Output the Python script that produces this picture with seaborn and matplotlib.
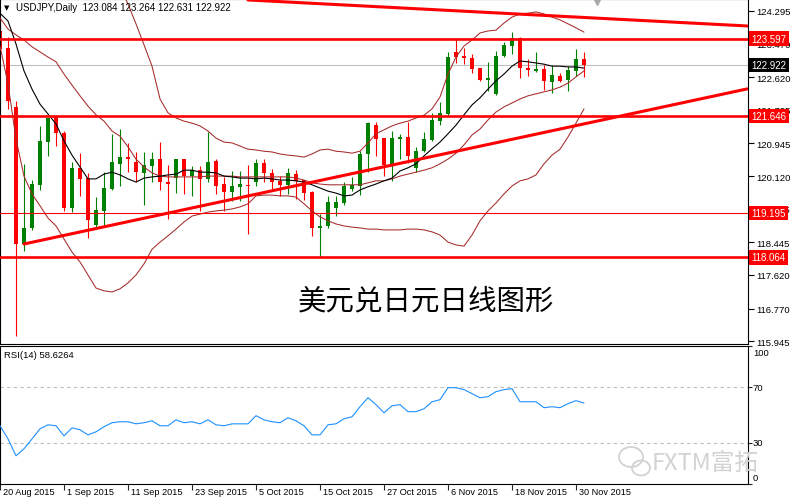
import matplotlib
matplotlib.use("Agg")
import matplotlib.pyplot as plt
import matplotlib.transforms as mtransforms
from matplotlib.patches import Ellipse
import pandas as pd
import seaborn as sns

# ---------------- data ----------------
symbol = "USDJPY,Daily"
opens = [123.79, 123.36, 121.87, 118.40, 118.81, 119.90, 120.98, 121.64, 121.21, 119.31,
         120.33, 120.07, 118.88, 119.24, 119.79, 120.43, 120.60, 120.48, 120.20, 120.38,
         120.55, 119.97, 120.07, 120.55, 120.12, 120.27, 120.05, 120.50, 119.92, 119.72,
         119.84, 119.90, 119.97, 120.45, 120.20, 120.00, 119.90, 120.17, 120.02, 119.73,
         118.82, 118.87, 119.31, 119.44, 119.80, 119.86, 120.68, 121.41, 121.08, 120.38,
         121.06, 121.12, 120.33, 120.76, 121.04, 121.52, 121.69, 123.25, 123.16, 123.11,
         122.85, 122.55, 122.19, 123.15, 123.42, 123.61, 122.86, 122.78, 122.83, 122.51,
         122.64, 122.55, 122.79, 123.084]
highs = [124.17, 123.64, 122.02, 120.43, 120.02, 121.39, 121.60, 121.66, 121.26, 120.48,
         120.70, 120.20, 119.59, 120.22, 121.19, 121.31, 120.96, 120.73, 120.73, 120.73,
         120.98, 120.40, 120.55, 120.56, 120.38, 120.38, 121.24, 120.55, 120.10, 120.25,
         120.25, 120.40, 120.55, 120.55, 120.30, 120.12, 120.33, 120.27, 120.03, 119.74,
         119.16, 119.62, 119.62, 119.97, 120.10, 120.76, 121.48, 121.48, 121.09, 121.27,
         121.18, 121.48, 120.85, 121.24, 121.71, 121.99, 123.26, 123.62, 123.35, 123.21,
         122.86, 123.00, 123.29, 123.50, 123.76, 123.63, 123.08, 123.27, 122.93, 122.93,
         122.72, 122.91, 123.33, 123.264]
lows = [123.28, 121.82, 116.08, 118.23, 118.76, 119.77, 120.63, 120.88, 119.24, 119.21,
        119.62, 118.56, 118.78, 118.83, 119.77, 119.87, 120.22, 119.97, 119.39, 119.97,
        119.77, 119.04, 119.70, 119.67, 119.62, 119.24, 119.97, 119.67, 119.24, 119.49,
        119.49, 118.66, 119.87, 119.97, 119.74, 119.62, 119.67, 119.54, 119.52, 118.61,
        118.07, 118.80, 119.11, 119.40, 119.75, 119.65, 120.22, 120.64, 120.13, 120.00,
        120.55, 120.45, 120.23, 120.72, 121.02, 121.40, 121.64, 122.99, 122.95, 122.73,
        122.53, 122.28, 122.18, 123.14, 123.21, 122.60, 122.65, 122.76, 122.30, 122.22,
        122.49, 122.28, 122.66, 122.631]
closes = [123.34, 122.02, 118.40, 118.81, 119.92, 121.01, 121.59, 121.21, 119.31, 120.33,
          120.05, 119.01, 119.26, 119.82, 120.47, 120.60, 120.56, 120.22, 120.40, 120.55,
          119.97, 119.92, 120.55, 120.12, 120.27, 120.05, 120.48, 119.87, 119.72, 119.87,
          119.92, 119.87, 120.45, 120.20, 119.97, 119.90, 120.20, 120.00, 119.69, 118.81,
          118.87, 119.46, 119.46, 119.86, 119.90, 120.68, 121.46, 121.06, 120.40, 121.08,
          121.10, 120.64, 120.76, 121.06, 121.54, 121.71, 123.14, 123.14, 123.11, 122.83,
          122.55, 122.59, 123.16, 123.44, 123.61, 122.85, 122.80, 122.83, 122.52, 122.68,
          122.53, 122.81, 123.08, 122.922]

bb_upper_start = 14
bb_upper = [125.35, 124.90, 124.47, 123.97, 123.44, 122.90, 122.07, 121.72, 121.59, 121.51,
            121.46, 121.39, 121.26, 121.08, 120.98, 120.96, 120.88, 120.80, 120.78, 120.75,
            120.73, 120.68, 120.65, 120.63, 120.60, 120.68, 120.78, 120.80, 120.75, 120.73,
            120.70, 120.75, 120.96, 121.19, 121.29, 121.39, 121.46, 121.51, 121.59, 121.66,
            121.82, 122.12, 122.70, 123.13, 123.41, 123.56, 123.74, 123.79, 123.81, 123.99,
            124.14, 124.22, 124.24, 124.27, 124.22, 124.14, 124.07, 123.97, 123.87, 123.76]
bb_middle = [124.12, 123.84, 123.69, 123.56, 123.39, 123.26, 123.13, 123.01, 122.70, 122.42,
             122.15, 121.89, 121.67, 121.51, 121.26, 121.13, 120.86, 120.55, 120.35, 120.20,
             120.12, 120.10, 120.10, 120.10, 120.10, 120.10, 120.12, 120.12, 120.12, 120.12,
             120.10, 120.10, 120.10, 120.10, 120.10, 120.10, 120.10, 120.07, 120.02, 119.95,
             119.92, 119.90, 119.90, 119.90, 119.90, 119.90, 119.95, 120.00, 120.00, 120.05,
             120.12, 120.17, 120.22, 120.27, 120.33, 120.43, 120.55, 120.70, 120.91, 121.16,
             121.31, 121.54, 121.74, 121.87, 121.97, 122.07, 122.15, 122.20, 122.25, 122.30,
             122.37, 122.47, 122.63, 122.78]
bb_lower = [123.41, 122.45, 121.06, 120.12, 119.67, 119.37, 119.06, 118.86, 118.53, 118.20,
            117.95, 117.62, 117.29, 117.22, 117.19, 117.27, 117.42, 117.62, 117.90, 118.27,
            118.45, 118.61, 118.78, 118.96, 119.11, 119.16, 119.21, 119.24, 119.26, 119.29,
            119.34, 119.42, 119.62, 119.64, 119.64, 119.62, 119.62, 119.59, 119.42, 119.24,
            119.09, 118.99, 118.91, 118.86, 118.83, 118.81, 118.78, 118.78, 118.76, 118.76,
            118.76, 118.78, 118.78, 118.76, 118.71, 118.63, 118.45, 118.38, 118.35, 118.63,
            118.99, 119.24, 119.44, 119.67, 119.87, 120.00, 120.05, 120.15, 120.43, 120.65,
            120.80, 121.11, 121.46, 121.82]
ma_fast = [124.24, 124.04, 123.46, 122.78, 122.32, 121.94, 121.69, 121.44, 121.01, 120.65,
           120.35, 120.05, 120.05, 120.17, 120.22, 120.15, 120.05, 119.97, 120.07, 120.10,
           120.12, 120.15, 120.17, 120.27, 120.27, 120.22, 120.22, 120.20, 120.12, 120.10,
           120.07, 120.07, 120.05, 120.07, 120.05, 120.02, 120.02, 120.00, 119.97, 119.90,
           119.82, 119.74, 119.69, 119.62, 119.64, 119.77, 119.85, 119.92, 120.00, 120.07,
           120.25, 120.33, 120.43, 120.63, 120.81, 120.98, 121.19, 121.41, 121.67, 121.92,
           122.10, 122.32, 122.53, 122.70, 122.90, 123.03, 123.01, 122.98, 122.95, 122.90,
           122.90, 122.88, 122.88, 122.85]
rsi = [42.2, 32.7, 20.4, 25.5, 32.7, 40.0, 42.9, 42.2, 34.9, 40.7,
       39.3, 35.6, 37.8, 41.5, 44.4, 45.1, 45.1, 43.6, 44.4, 45.8,
       42.2, 42.2, 46.5, 44.4, 45.1, 43.6, 46.5, 42.9, 42.2, 43.6,
       43.6, 43.6, 49.5, 46.5, 45.1, 44.4, 48.0, 45.8, 42.2, 35.6,
       35.6, 42.9, 43.6, 47.3, 48.7, 56.0, 62.5, 57.5, 51.6, 56.7,
       57.5, 52.4, 52.4, 54.5, 59.6, 61.1, 69.8, 69.8, 68.4, 65.5,
       62.5, 63.3, 66.9, 68.4, 69.1, 59.6, 59.6, 59.6, 55.3, 56.0,
       55.3, 58.2, 60.4, 58.6264]

levels_thick = [123.597, 121.646, 118.064]
levels_thin = [119.195]
trend_down_x = [31.0, 93.4]
trend_down_y = [124.574, 123.916]
trend_up_x = [3.0, 93.4]
trend_up_y = [118.404, 122.325]

price_ticks = [124.295, 123.470, 122.620, 121.795, 120.945, 120.120,
               119.295, 118.445, 117.620, 116.770, 115.945]
date_tick_idx = [0, 8, 16, 24, 32, 40, 48, 56, 64, 72]
date_tick_labels = ["20 Aug 2015", "1 Sep 2015", "11 Sep 2015", "23 Sep 2015",
                    "5 Oct 2015", "15 Oct 2015", "27 Oct 2015", "6 Nov 2015",
                    "18 Nov 2015", "30 Nov 2015"]
rsi_levels = [70, 30]
rsi_tick_vals = [100, 70, 30, 0]
rsi_tick_labels = ["100", "70", "30", "0"]
title_cn = "美元兑日元日线图形"
watermark = "FXTM富拓"

# ---------------- style ----------------
sns.set_theme(style="white")
plt.rcParams['font.family'] = ['Liberation Sans', 'DejaVu Sans']
plt.rcParams['axes.edgecolor'] = 'black'
plt.rcParams['axes.linewidth'] = 0.8

RED = '#FF0000'
GREEN = '#008000'
BROWN = '#A52A2A'
W, H = 793, 502

fig = plt.figure(figsize=(W / 100, H / 100), dpi=100)
ax = fig.add_axes([0, 1 - 345 / H, 748 / W, 345 / H])
ax2 = fig.add_axes([0, 1 - 485 / H, 748 / W, 138 / H])

df = pd.DataFrame({'o': opens, 'h': highs, 'l': lows, 'c': closes})
df['idx'] = range(len(df))
df['col'] = [GREEN if c >= o else RED for o, c in zip(df.o, df.c)]
df['bot'] = df[['o', 'c']].min(axis=1)
df['hgt'] = (df.c - df.o).abs().clip(lower=0.03)

ax.set_xlim(0, 93.5)
ax.set_ylim(115.875, 124.598)

# current price line
ax.axhline(closes[-1], color='#C0C0C0', lw=0.8, zorder=1)

# candles
ax.vlines(df.idx, df.l, df.h, colors=df.col, lw=0.8, zorder=2)
ax.bar(df.idx, df.hgt, bottom=df.bot, width=0.62, color=df.col, lw=0, zorder=2.1)

# indicators
up_idx = list(range(bb_upper_start, bb_upper_start + len(bb_upper)))
full_idx = list(range(len(bb_middle)))
kw = dict(estimator=None, sort=False, legend=False, ax=ax)
sns.lineplot(x=up_idx, y=bb_upper, color=BROWN, lw=0.75, zorder=3, **kw)
sns.lineplot(x=full_idx, y=bb_middle, color=BROWN, lw=0.75, zorder=3, **kw)
sns.lineplot(x=full_idx, y=bb_lower, color=BROWN, lw=0.75, zorder=3, **kw)
sns.lineplot(x=full_idx, y=ma_fast, color='black', lw=0.8, zorder=3.2, **kw)

# levels & trendlines
for lv in levels_thick:
    ax.axhline(lv, color=RED, lw=1.9, zorder=4)
for lv in levels_thin:
    ax.axhline(lv, color=RED, lw=0.8, zorder=4)
sns.lineplot(x=trend_down_x, y=trend_down_y, color=RED, lw=2.2, zorder=4, **kw)
sns.lineplot(x=trend_up_x, y=trend_up_y, color=RED, lw=2.2, zorder=4, **kw)

# chart-shift marker at top
ax.plot([74.6], [124.56], marker='v', markersize=6, color='#A8A8A8', lw=0,
        clip_on=False, zorder=6)

# axes formatting main
ax.set_xticks([])
ax.yaxis.tick_right()
ax.set_yticks(price_ticks)
ax.set_yticklabels([f"{p:.3f}" for p in price_ticks])
ax.tick_params(axis='y', which='both', right=True, length=4, width=0.8, pad=2,
               labelsize=6.8, colors='black', direction='out')
ax.set_xlabel('')
ax.set_ylabel('')
for s in ax.spines.values():
    s.set_color('black')
    s.set_linewidth(0.8)

blend = mtransforms.blended_transform_factory(ax.transAxes, ax.transData)
for lv in levels_thick + levels_thin:
    ax.text(1.0045, lv, f"{lv:.3f}", transform=blend, ha='left', va='center',
            fontsize=7, color='white', clip_on=False, zorder=10,
            bbox=dict(boxstyle='square,pad=0.22', fc=RED, ec='none'))
ax.text(1.0045, closes[-1], f"{closes[-1]:.3f}", transform=blend, ha='left', va='center',
        fontsize=7, color='white', clip_on=False, zorder=10,
        bbox=dict(boxstyle='square,pad=0.22', fc='black', ec='none'))

# header
fig.text(7 / W, 1 - 8 / H, "▼", fontsize=5, ha='center', va='center', color='black',
         family=['DejaVu Sans'])
fig.text(16 / W, 1 - 8 / H,
         f"{symbol}  {opens[-1]:.3f} {highs[-1]:.3f} {lows[-1]:.3f} {closes[-1]:.3f}",
         fontsize=7, ha='left', va='center', color='black')

ax.text(0.5695, 0.1275, title_cn, transform=ax.transAxes, ha='center', va='center',
        fontsize=20.5, color='black', fontweight='light',
        family=['Noto Sans CJK SC', 'DejaVu Sans'], zorder=11)

# ---------------- RSI panel ----------------
ax2.set_xlim(0, 93.5)
ax2.set_ylim(0, 100)
for lv in rsi_levels:
    ax2.axhline(lv, color='#BDBDBD', lw=0.8, ls=(0, (3, 3)), zorder=1)
sns.lineplot(x=full_idx, y=rsi, color='#1E90FF', lw=0.8, estimator=None, sort=False,
             legend=False, ax=ax2, zorder=3)
ax2.set_xlabel('')
ax2.set_ylabel('')
ax2.yaxis.tick_right()
ax2.set_yticks(rsi_tick_vals)
ax2.set_yticklabels([])
ax2.tick_params(axis='y', right=True, length=3, width=0.8, direction='out')
ax2.set_xticks(date_tick_idx)
ax2.set_xticklabels([])
ax2.tick_params(axis='x', bottom=True, length=4, width=0.8, direction='out')
for s in ax2.spines.values():
    s.set_color('black')
    s.set_linewidth(0.8)

blend2 = mtransforms.blended_transform_factory(ax2.transAxes, ax2.transData)
rsi_label_pos = [95, 70, 30, 5]
for v, lab in zip(rsi_label_pos, rsi_tick_labels):
    ax2.text(1.0065, v, lab, transform=blend2, ha='left', va='center', fontsize=6.8,
             color='black', clip_on=False)
ax2.text(4 / 748, 1 - 9 / 138, f"RSI(14) {rsi[-1]:.4f}", transform=ax2.transAxes,
         ha='left', va='center', fontsize=6.8, color='black')

for i, lab in zip(date_tick_idx, date_tick_labels):
    ax2.annotate(lab, xy=(i, 0), xycoords=('data', 'axes fraction'),
                 xytext=(3, -8), textcoords='offset pixels', ha='left', va='center',
                 fontsize=6.6, color='black', annotation_clip=False)

# watermark
fig.text(652 / W, 1 - 463 / H, watermark, fontsize=17, color='#D2D2D2', ha='left',
         va='center', family=['Noto Sans CJK SC', 'DejaVu Sans'])
fig.add_artist(Ellipse((631 / W, 1 - 458 / H), 24 / W, 20 / H, transform=fig.transFigure,
                       fill=False, ec='#D2D2D2', lw=1.3))
fig.add_artist(Ellipse((641 / W, 1 - 469 / H), 18 / W, 15 / H, transform=fig.transFigure,
                       fill=False, ec='#D2D2D2', lw=1.3))

fig.savefig("out.png", dpi=100)
